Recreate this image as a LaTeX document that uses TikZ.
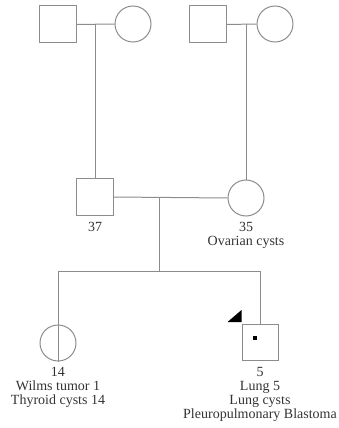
\documentclass[tikz,border=0pt]{standalone}
\usepackage{fontspec}
\setmainfont{Liberation Serif}
\begin{document}
\begin{tikzpicture}[x=1pt,y=-1pt,
  line/.style={draw=black!45,line width=1pt},
  male/.style={rectangle,draw=black!45,line width=1pt,minimum size=37pt,inner sep=0pt,fill=white},
  female/.style={circle,draw=black!45,line width=1pt,minimum size=36pt,inner sep=0pt},
  lbl/.style={anchor=north,inner sep=0pt,align=center,text=black!80,font=\fontsize{14}{14}\selectfont}]
\useasboundingbox (0,0) rectangle (338,428);
% grandparents
\node[male] (gf1) at (57.5,24.5) {};
\node[female] (gm1) at (133,24) {};
\node[male] (gf2) at (207.5,24.5) {};
\node[female] (gm2) at (275,24) {};
% parents
\node[male] (fa) at (95,197) {};
\node[female] (mo) at (246,198) {};
% children
\node[female] (da) at (58,343) {};
\node[male,minimum size=36pt] (so) at (260,342.5) {};
% couple points
\coordinate (c1) at (95,24);
\coordinate (c2) at (246,24);
\coordinate (c3) at (159,198);
\coordinate (s0) at (159,271);
\coordinate (sl) at (58,271);
\coordinate (sr) at (260,271);
\draw[line] (gf1.east) -- (gm1.west);
\draw[line] (gf2.east) -- (gm2.west);
\draw[line] (c1) -- (fa.north);
\draw[line] (c2) -- (mo.north);
\draw[line] (fa.east) -- (mo.west);
\draw[line] (c3) -- (s0);
\draw[line] (sl) -- (sr);
\draw[line] (sl) -- (da.south);
\draw[line] (sr) -- (so.north);
% proband arrow and carrier mark
\fill[black] ([xshift=-14pt,yshift=2pt]so.north west) -- ([yshift=14pt]so.north west) -- ([yshift=2pt]so.north west) -- cycle;
\fill[black] ([xshift=-7pt,yshift=3pt]so.center) rectangle ([xshift=-3pt,yshift=7pt]so.center);
% labels
\node[lbl] (l37) at (95,222.5) {37};
\node[lbl] (l35) at (246,222.5) {35\\Ovarian cysts};
\node[lbl] (l14) at (58,367.5) {14\\Wilms tumor 1\\Thyroid cysts 14};
\node[lbl] (l5) at (260,367.5) {5\\Lung 5\\Lung cysts\\Pleuropulmonary Blastoma};
\end{tikzpicture}
\end{document}
